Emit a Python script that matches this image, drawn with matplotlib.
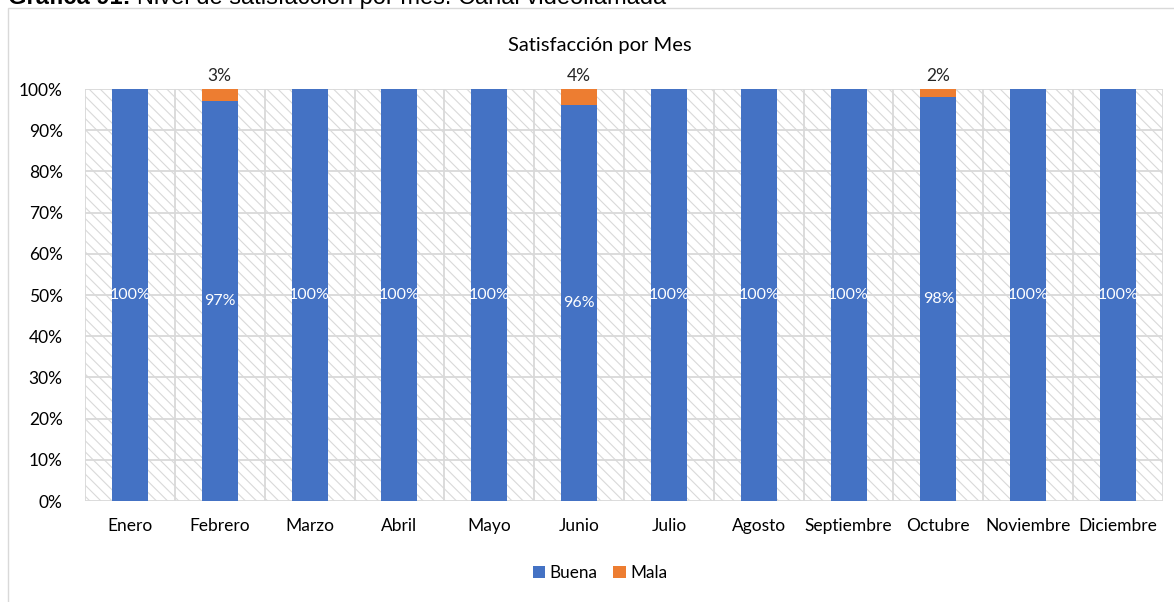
import numpy as np
import matplotlib
matplotlib.use("Agg")
import matplotlib.pyplot as plt
from matplotlib.patches import Rectangle

plt.rcParams['font.family'] = ['Lato', 'DejaVu Sans']
plt.rcParams['hatch.color'] = '#d9d9d9'
plt.rcParams['hatch.linewidth'] = 0.8

# Data
meses = ["Enero", "Febrero", "Marzo", "Abril", "Mayo", "Junio", "Julio",
         "Agosto", "Septiembre", "Octubre", "Noviembre", "Diciembre"]
buena = [100, 97, 100, 100, 100, 96, 100, 100, 100, 98, 100, 100]
mala = [0, 3, 0, 0, 0, 4, 0, 0, 0, 2, 0, 0]
yticks = [0, 10, 20, 30, 40, 50, 60, 70, 80, 90, 100]

blue = "#4472C4"
orange = "#ED7D31"
grid = "#d9d9d9"
txt = "#262626"

W, H = 1174, 602
fig = plt.figure(figsize=(W / 100, H / 100), dpi=100)

# chart frame
fig.patches.append(Rectangle((8 / W, -0.05), 1.1, 1 - 8 / H + 0.05,
                             transform=fig.transFigure, fill=False,
                             edgecolor="#d9d9d9", linewidth=1))

# caption above the chart (cut by the top edge, as in the source)
fig.text(8 / W, 1 - 4 / H, "Gráfica 91:", fontsize=17, fontweight="bold",
         family="Liberation Sans", ha="left", va="baseline", color="black")
fig.text(137 / W, 1 - 4 / H, "Nivel de satisfacción por mes. Canal videollamada",
         fontsize=17, family="Liberation Sans", ha="left", va="baseline",
         color="black")

ax = fig.add_axes([85 / W, 1 - 501 / H, (1163 - 85) / W, (501 - 89) / H])

x = np.arange(len(meses))

# hatched plot area
ax.add_patch(Rectangle((0, 0), 1, 1, transform=ax.transAxes, facecolor="white",
                       hatch="\\\\\\", edgecolor=grid, linewidth=0, zorder=0))

b1 = ax.bar(x, buena, width=0.4, color=blue, zorder=3, label="Buena")
b2 = ax.bar(x, mala, width=0.4, bottom=buena, color=orange, zorder=3, label="Mala")

# gridlines
for yv in yticks:
    ax.axhline(yv, color=grid, linewidth=1.3, zorder=1)
for xv in np.arange(-0.5, len(meses), 1.0):
    ax.axvline(xv, color=grid, linewidth=1.3, zorder=1)

# labels
for xi, b in zip(x, buena):
    ax.text(xi, b / 2, f"{b}%", ha="center", va="center", color="white",
            fontsize=11.5, zorder=4)
for xi, b, m in zip(x, buena, mala):
    if m > 0:
        ax.text(xi, b + m + 1.3, f"{m}%", ha="center", va="bottom", color=txt,
                fontsize=12.5, zorder=4)

ax.set_xlim(-0.5, len(meses) - 0.5)
ax.set_ylim(0, 100)
ax.set_yticks(yticks)
ax.set_yticklabels([f"{v}%" for v in yticks])
ax.set_xticks(x)
ax.set_xticklabels(meses)
ax.tick_params(axis="both", length=0, labelsize=12.5, labelcolor="black")
ax.tick_params(axis="x", pad=12)
ax.tick_params(axis="y", pad=16)
for s in ax.spines.values():
    s.set_visible(False)

fig.text(600 / W, 1 - 45 / H, "Satisfacción por Mes", fontsize=14.5,
         color="black", ha="center", va="center")

fig.legend(handles=[b1, b2], loc="center", bbox_to_anchor=(600 / W, 1 - 573 / H),
           ncol=2, frameon=False, fontsize=12.3, handlelength=0.75,
           handleheight=0.75, handletextpad=0.25, columnspacing=0.9)

fig.savefig("out.png", dpi=100)
